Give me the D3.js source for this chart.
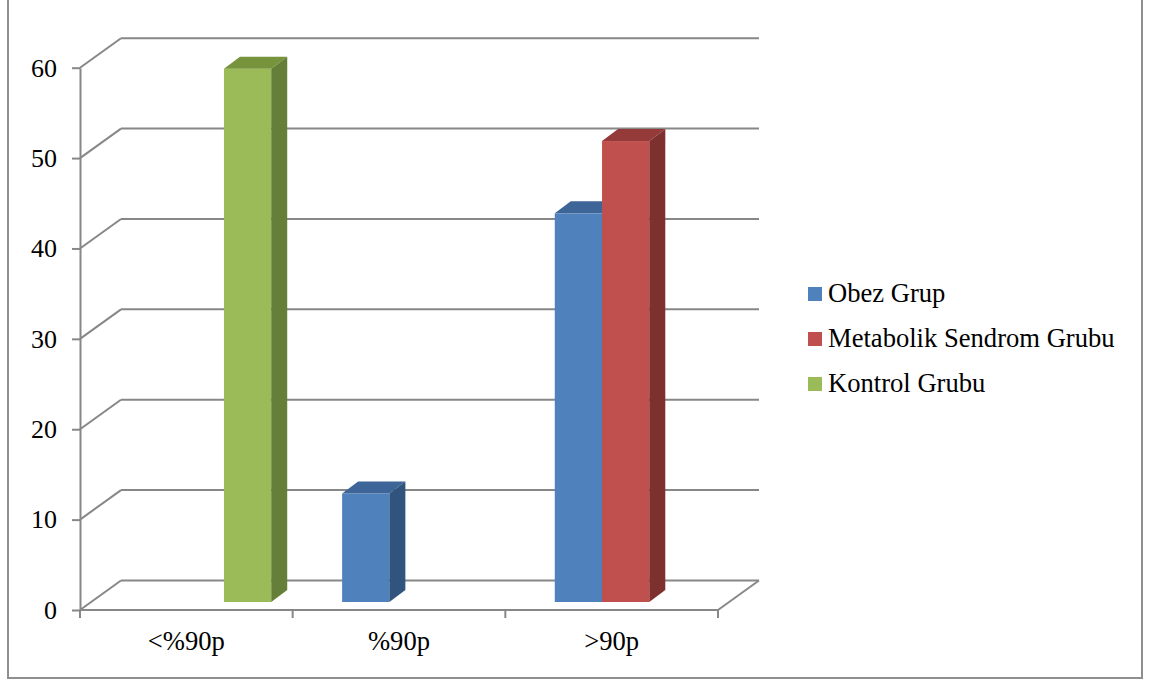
<!DOCTYPE html>
<html>
<head>
<meta charset="utf-8">
<script src="https://cdn.jsdelivr.net/npm/d3@7"></script>
<style>
  html, body { margin: 0; padding: 0; background: #ffffff; }
  svg { display: block; }
  text { font-family: "Liberation Serif", "Times New Roman", serif; fill: #000; }
</style>
</head>
<body>
<svg id="chart" width="1152" height="682"></svg>
<script>
// Categories, series and values
const categories = ["<%90p", "%90p", ">90p"];
const seriesNames = ["Obez Grup", "Metabolik Sendrom Grubu", "Kontrol Grubu"];
const obezValues = [0, 12, 43];
const metabolikValues = [0, 0, 51];
const kontrolValues = [59, 0, 0];
const yTicks = [0, 10, 20, 30, 40, 50, 60];

(function () {
const seriesValues = [obezValues, metabolikValues, kontrolValues];

// Face colours per series: front, top, side
const palette = [
  { front: "#4F81BD", top: "#3D6597", side: "#31547F" },
  { front: "#C0504D", top: "#943B39", side: "#7D302E" },
  { front: "#9BBB59", top: "#77933C", side: "#657F39" }
];

const svg = d3.select("#chart");
const gridColor = "#878787";
const labelSize = 26.6;

// Front plane of the 3D box
const plotLeft = 80, plotRight = 718, plotBottom = 610, plotTop = 67.7;
// Oblique offset of the back wall
const wallDx = 41, wallDy = -29.5;
// Offset of bar front faces and depth of the bars
const barDx = 14, barDy = -8;
const depthDx = 16, depthDy = -12;

const y = d3.scaleLinear().domain([0, 60]).range([plotBottom, plotTop]);
const x0 = d3.scaleBand().domain(categories).range([plotLeft, plotRight]).padding(0);
const bw = x0.bandwidth();
const gapOff = bw * 0.75 / 4.5;
const x1 = d3.scaleBand().domain(seriesNames).range([gapOff, bw - gapOff]).padding(0);

// Outer frame
svg.append("path")
  .attr("d", "M8,-2 L8,678 L1142,678 L1142,-2")
  .attr("fill", "none")
  .attr("stroke", "#8e8e8e")
  .attr("stroke-width", 2);

// Wall gridlines: side-wall diagonals and back-wall horizontals
const grid = svg.append("g").attr("stroke", gridColor).attr("stroke-width", 2).attr("fill", "none");
yTicks.forEach(t => {
  const yy = y(t);
  grid.append("line")
    .attr("x1", plotLeft).attr("y1", yy)
    .attr("x2", plotLeft + wallDx).attr("y2", yy + wallDy);
  grid.append("line")
    .attr("x1", plotLeft + wallDx).attr("y1", yy + wallDy)
    .attr("x2", plotRight + wallDx).attr("y2", yy + wallDy);
});
// Right edge of the floor
grid.append("line")
  .attr("x1", plotRight).attr("y1", y(0))
  .attr("x2", plotRight + wallDx).attr("y2", y(0) + wallDy);

// Bars drawn as three faces each
const bars = svg.append("g");
categories.forEach((cat, ci) => {
  seriesNames.forEach((s, si) => {
    const v = seriesValues[si][ci];
    if (!v) return;
    const c = palette[si];
    const xl = x0(cat) + x1(s) + barDx;
    const xr = xl + x1.bandwidth();
    const yb = y(0) + barDy;
    const yt = y(v) + barDy;
    // front face
    bars.append("rect")
      .attr("x", xl).attr("y", yt)
      .attr("width", xr - xl).attr("height", yb - yt)
      .attr("fill", c.front);
    // top face
    bars.append("path")
      .attr("d", `M${xl},${yt} L${xl + depthDx},${yt + depthDy} L${xr + depthDx},${yt + depthDy} L${xr},${yt} Z`)
      .attr("fill", c.top);
    // side face
    bars.append("path")
      .attr("d", `M${xr},${yt} L${xr + depthDx},${yt + depthDy} L${xr + depthDx},${yb + depthDy} L${xr},${yb} Z`)
      .attr("fill", c.side);
  });
});

// Value axis
const yAxis = d3.axisLeft(y)
  .tickValues(yTicks)
  .tickSize(8)
  .tickSizeOuter(0)
  .tickPadding(15)
  .tickFormat(d3.format("d"));
const yg = svg.append("g").attr("transform", `translate(${plotLeft},0)`).call(yAxis);
yg.select(".domain").attr("stroke", gridColor).attr("stroke-width", 2);
yg.selectAll(".tick line").attr("stroke", gridColor).attr("stroke-width", 2);
yg.selectAll(".tick text")
  .attr("font-family", "Liberation Serif, Times New Roman, serif")
  .attr("font-size", 26)
  .attr("fill", "#000");

// Category axis: baseline, boundary ticks and centred labels
const xg = svg.append("g");
xg.append("line")
  .attr("x1", plotLeft).attr("y1", plotBottom)
  .attr("x2", plotRight).attr("y2", plotBottom)
  .attr("stroke", gridColor).attr("stroke-width", 2);
const boundaries = categories.map(c => x0(c)).concat([plotRight]);
xg.selectAll("line.tick").data(boundaries).enter().append("line")
  .attr("class", "tick")
  .attr("x1", d => d).attr("x2", d => d)
  .attr("y1", plotBottom).attr("y2", plotBottom + 8)
  .attr("stroke", gridColor).attr("stroke-width", 2);
xg.selectAll("text").data(categories).enter().append("text")
  .attr("x", d => x0(d) + bw / 2)
  .attr("y", 650)
  .attr("text-anchor", "middle")
  .attr("font-size", labelSize)
  .text(d => d);

// Legend
const legend = svg.append("g").attr("transform", "translate(808,287)");
seriesNames.forEach((s, i) => {
  const row = legend.append("g").attr("transform", `translate(0,${i * 45})`);
  row.append("rect").attr("x", 0).attr("y", 0).attr("width", 14).attr("height", 14).attr("fill", palette[i].front);
  row.append("text").attr("x", 20).attr("y", 14.5).attr("font-size", labelSize).text(s);
});
})();
</script>
</body>
</html>
